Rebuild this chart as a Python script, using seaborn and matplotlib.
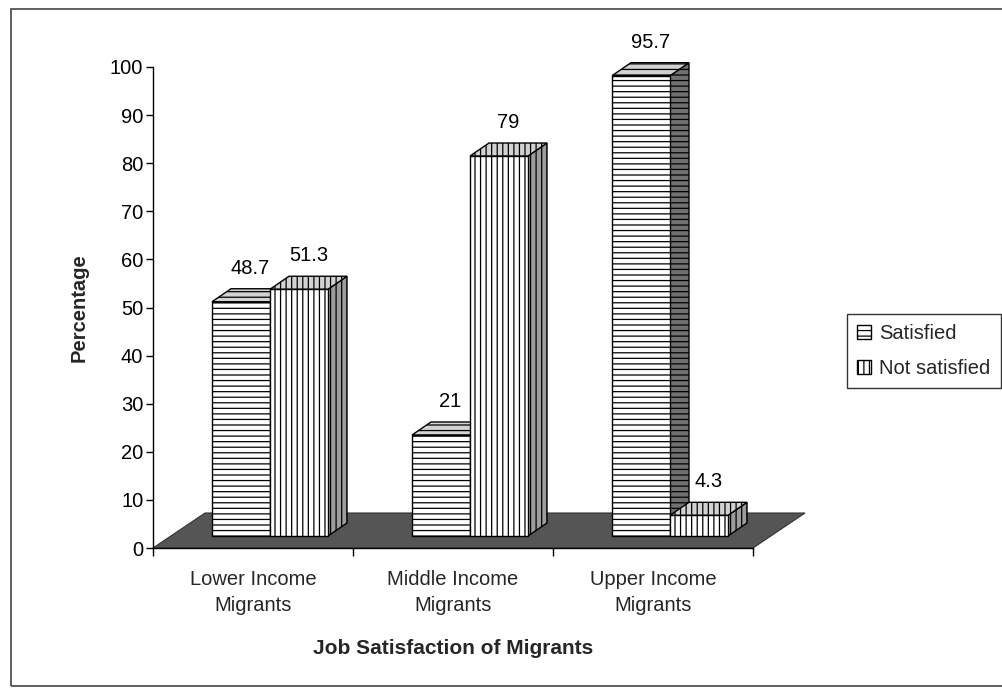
import numpy as np
import pandas as pd
import matplotlib
matplotlib.use("Agg")
import matplotlib.pyplot as plt
from matplotlib.patches import Polygon, Patch, Rectangle
import seaborn as sns

# ---- data ----
categories = ["Lower Income\nMigrants", "Middle Income\nMigrants", "Upper Income\nMigrants"]
series_names = ["Satisfied", "Not satisfied"]
satisfied = [48.7, 21, 95.7]
not_satisfied = [51.3, 79, 4.3]
yticks = [0, 10, 20, 30, 40, 50, 60, 70, 80, 90, 100]

df = pd.DataFrame({
    "Category": categories * 2,
    "Status": [series_names[0]] * 3 + [series_names[1]] * 3,
    "Percentage": satisfied + not_satisfied,
})

sns.set_theme(style="white")
plt.rcParams["font.family"] = ["Liberation Sans", "DejaVu Sans"]
plt.rcParams["hatch.color"] = "black"
plt.rcParams["hatch.linewidth"] = 0.9

W, H = 1003, 689
fig = plt.figure(figsize=(W / 100, H / 100), dpi=100)
ax = fig.add_axes([153 / W, 1 - 548 / H, 600 / W, 481 / H])

sns.barplot(data=df, x="Category", y="Percentage", hue="Status",
            hue_order=series_names, order=categories,
            palette=["white", "white"], edgecolor="black", linewidth=1.0,
            width=0.58, gap=0, ax=ax, legend=False, zorder=3)

ax.set_xlim(-0.5, 2.5)
ax.set_ylim(0, 100)
ax.set_yticks(yticks)
ax.set_yticklabels([str(t) for t in yticks], fontsize=14.5)
ax.tick_params(axis="x", labelsize=14.5, length=6, width=1, pad=8, colors="black",
               direction="out", bottom=True)
ax.tick_params(axis="y", length=5, width=1, pad=2, colors="black", direction="out", left=True)
ax.set_xticks([-0.5, 0.5, 1.5, 2.5], minor=False)
ax.set_xticklabels(["", "", "", ""])
ax.set_xticks([0, 1, 2], minor=True)
ax.set_xticklabels(categories, minor=True, fontsize=14.5, linespacing=1.45)
ax.tick_params(axis="x", which="minor", length=0, pad=16)
ax.set_xlabel("Job Satisfaction of Migrants", fontsize=15, fontweight="bold", labelpad=17)
ax.set_ylabel("Percentage", fontsize=14.5, fontweight="bold", labelpad=15)
for s in ["top", "right"]:
    ax.spines[s].set_visible(False)
for s in ["left", "bottom"]:
    ax.spines[s].set_color("black")
    ax.spines[s].set_linewidth(1.0)
    ax.spines[s].set_zorder(10)
ax.set_facecolor("white")
ax.patch.set_alpha(0)


def px(dxp, dyp):
    inv = ax.transData.inverted()
    p0 = inv.transform((0, 0))
    p1 = inv.transform((dxp, dyp))
    return p1[0] - p0[0], p1[1] - p0[1]


# floor (3-D base plane)
fdx, fdy = px(52, 35)
x0, x1 = ax.get_xlim()
floor = Polygon([(x0, 0), (x1, 0), (x1 + fdx, fdy), (x0 + fdx, fdy)], closed=True,
                facecolor="#555555", edgecolor="#333333", linewidth=0.8, zorder=1,
                clip_on=False)
ax.add_patch(floor)

# 3-D look for the bars
sx, sy = px(17, 12)     # front face offset from the floor front edge
ddx, ddy = px(19, 13)   # bar depth
hatches = ["---", "|||"]
side_colors = ["#707070", "#9c9c9c"]
top_colors = ["#d2d2d2", "#d2d2d2"]
for j, cont in enumerate(ax.containers):
    for bar in cont.patches:
        bx = bar.get_x() + sx
        bw = bar.get_width()
        bh = bar.get_height()
        bar.set_x(bx)
        bar.set_y(sy)
        bar.set_hatch(hatches[j])
        bar.set_zorder(3 + 2 * j)
        b = sy
        t = sy + bh
        r = bx + bw
        top = Polygon([(bx, t), (r, t), (r + ddx, t + ddy), (bx + ddx, t + ddy)],
                      closed=True, facecolor=top_colors[j], edgecolor="black",
                      linewidth=1.0, hatch=hatches[j], zorder=2 + 2 * j, clip_on=False)
        side = Polygon([(r, b), (r + ddx, b + ddy), (r + ddx, t + ddy), (r, t)],
                       closed=True, facecolor=side_colors[j], edgecolor="black",
                       linewidth=1.0, hatch=hatches[j], zorder=2 + 2 * j, clip_on=False)
        ax.add_patch(side)
        ax.add_patch(top)
        val = bh
        ax.annotate(f"{val:g}", xy=(bx + bw / 2 + ddx / 2, t + ddy), xytext=(0, 8),
                    textcoords="offset points", ha="center", va="bottom",
                    fontsize=14.5, color="black", zorder=20, annotation_clip=False)

# legend
handles = [Patch(facecolor="white", edgecolor="black", hatch=h, linewidth=1.0) for h in hatches]
leg = fig.legend(handles, series_names, loc="upper left",
                 bbox_to_anchor=(847 / W, 1 - 314 / H), fontsize=14.5,
                 frameon=True, fancybox=False, shadow=False, handlelength=0.7,
                 handleheight=0.7, handletextpad=0.4, labelspacing=0.8,
                 borderpad=0.5, borderaxespad=0)
leg.get_frame().set_edgecolor("black")
leg.get_frame().set_linewidth(1.0)

# outer chart border
fig.add_artist(Rectangle((11 / W, 1 - 686 / H), 1.2, (686 - 9) / H,
                         transform=fig.transFigure, fill=False,
                         edgecolor="#444444", linewidth=1.2, clip_on=False))

fig.savefig("out.png", dpi=100, facecolor="white")
